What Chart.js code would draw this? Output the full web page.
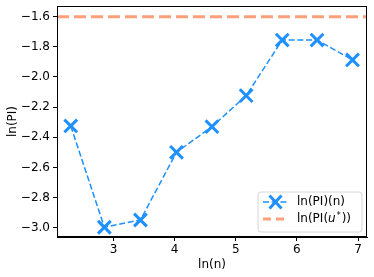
<!DOCTYPE html>
<html>
<head>
<meta charset="utf-8">
<script src="https://cdn.jsdelivr.net/npm/chart.js@4.4.1/dist/chart.umd.min.js"></script>
<style>
  html, body { margin: 0; padding: 0; background: #fff; }
  #wrap { width: 374px; height: 277px; overflow: hidden; position: relative; }
  /* Chart.js reserves half a label above the top tick; shift the canvas up to hide it */
  #chart { position: absolute; left: 0; top: -6px; }
</style>
</head>
<body>
<div id="wrap"><canvas id="chart" width="379" height="283"></canvas></div>
<script>
// data
const lnN = [2.30, 2.85, 3.44, 4.03, 4.61, 5.17, 5.76, 6.33, 6.91];
const lnPI = [-2.325, -2.997, -2.949, -2.50, -2.33, -2.124, -1.755, -1.755, -1.887];
const refLevel = -1.6;
const xTicks = [3, 4, 5, 6, 7];
const yTicks = [-3.0, -2.8, -2.6, -2.4, -2.2, -2.0, -1.8, -1.6];

const X_MIN = 2.075, X_MAX = 7.147;
const Y_MIN = -3.062, Y_MAX = -1.529;

const BLUE = "#1e90ff";
const SALMON = "#ffa07a";
const FONT = "'DejaVu Sans', sans-serif";

const minus = (v) => (v < 0 ? "\u2212" : "") + Math.abs(v).toFixed(1);

// box around plot + legend inside the axes (lower right)
const framePlugin = {
    id: "frame",
    afterDraw(chart) {
        const ctx = chart.ctx;
        const a = chart.chartArea;
        ctx.save();
        ctx.strokeStyle = "#000";
        ctx.lineWidth = 1;
        ctx.strokeRect(a.left + 0.5, a.top + 0.5, a.right - a.left - 1, a.bottom - a.top - 1);

        const bw = 104, bh = 40, r = 3;
        const bx = a.right - 5 - bw, by = a.bottom - 5 - bh;
        ctx.beginPath();
        ctx.moveTo(bx + r, by);
        ctx.arcTo(bx + bw, by, bx + bw, by + bh, r);
        ctx.arcTo(bx + bw, by + bh, bx, by + bh, r);
        ctx.arcTo(bx, by + bh, bx, by, r);
        ctx.arcTo(bx, by, bx + bw, by, r);
        ctx.closePath();
        ctx.fillStyle = "rgba(255,255,255,0.8)";
        ctx.fill();
        ctx.strokeStyle = "#d6d6d6";
        ctx.stroke();

        const lx = bx + 5, tx = bx + 39;
        // row 1
        const y1 = by + 10;
        ctx.strokeStyle = BLUE;
        ctx.lineWidth = 1.5;
        ctx.setLineDash([6, 2.7]);
        ctx.beginPath(); ctx.moveTo(lx, y1); ctx.lineTo(lx + 25, y1); ctx.stroke();
        ctx.setLineDash([]);
        ctx.lineWidth = 3;
        ctx.beginPath();
        ctx.moveTo(lx + 6.5, y1 - 6.5); ctx.lineTo(lx + 18.5, y1 + 6.5);
        ctx.moveTo(lx + 18.5, y1 - 6.5); ctx.lineTo(lx + 6.5, y1 + 6.5);
        ctx.stroke();

        // row 2
        const y2 = by + 27;
        ctx.strokeStyle = SALMON;
        ctx.lineWidth = 3;
        ctx.setLineDash([8, 5]);
        ctx.beginPath(); ctx.moveTo(lx, y2); ctx.lineTo(lx + 25, y2); ctx.stroke();
        ctx.setLineDash([]);

        ctx.fillStyle = "#000";
        ctx.textBaseline = "middle";
        ctx.textAlign = "left";
        ctx.font = "12px " + FONT;
        ctx.fillText("ln(PI)(n)", tx, y1);
        let x = tx;
        ctx.fillText("ln(PI(", x, y2);
        x += ctx.measureText("ln(PI(").width;
        ctx.font = "italic 12px " + FONT;
        ctx.fillText("u", x, y2);
        x += ctx.measureText("u").width + 1;
        ctx.font = "8px " + FONT;
        ctx.fillText("*", x, y2 - 3);
        x += ctx.measureText("*").width + 1;
        ctx.font = "12px " + FONT;
        ctx.fillText("))", x, y2);
        ctx.restore();
    }
};

new Chart(document.getElementById("chart"), {
    type: "line",
    data: {
        datasets: [
            {
                label: "ln(PI)(n)",
                data: lnN.map((v, i) => ({ x: v, y: lnPI[i] })),
                borderColor: BLUE,
                borderWidth: 1.5,
                borderDash: [6, 2.7],
                pointStyle: "crossRot",
                pointRadius: 9,
                pointBorderWidth: 3,
                pointBorderColor: BLUE,
                pointBackgroundColor: BLUE,
                tension: 0,
                fill: false
            },
            {
                label: "ln(PI(u*))",
                data: [{ x: X_MIN, y: refLevel }, { x: X_MAX, y: refLevel }],
                borderColor: SALMON,
                borderWidth: 3,
                borderDash: [12, 5],
                pointRadius: 0,
                fill: false
            }
        ]
    },
    options: {
        responsive: false,
        animation: false,
        layout: { padding: { top: 6, right: 7, left: 6, bottom: 5 } },
        plugins: { legend: { display: false }, tooltip: { enabled: false } },
        scales: {
            x: {
                type: "linear",
                min: X_MIN,
                max: X_MAX,
                afterBuildTicks: (s) => { s.ticks = xTicks.map(v => ({ value: v })); },
                afterFit: (s) => { s.height = 35; },
                grid: { display: true, drawOnChartArea: false, drawTicks: true, tickLength: 4, tickColor: "#000", color: "#000" },
                border: { display: true, color: "#000" },
                ticks: { color: "#000", font: { family: FONT, size: 12 }, padding: 2, maxRotation: 0, callback: (v) => String(v) },
                title: { display: true, text: "ln(n)", color: "#000", font: { family: FONT, size: 12 }, padding: { top: 4, bottom: 0 } }
            },
            y: {
                type: "linear",
                min: Y_MIN,
                max: Y_MAX,
                afterBuildTicks: (s) => { s.ticks = yTicks.map(v => ({ value: v })); },
                afterFit: (s) => { s.width = 51; },
                grid: { display: true, drawOnChartArea: false, drawTicks: true, tickLength: 4, tickColor: "#000", color: "#000" },
                border: { display: true, color: "#000" },
                ticks: { color: "#000", font: { family: FONT, size: 12 }, padding: 3, callback: (v) => minus(v) },
                title: { display: true, text: "ln(PI)", color: "#000", font: { family: FONT, size: 12 }, padding: { top: 0, bottom: 2 } }
            }
        }
    },
    plugins: [framePlugin]
});
</script>
</body>
</html>
